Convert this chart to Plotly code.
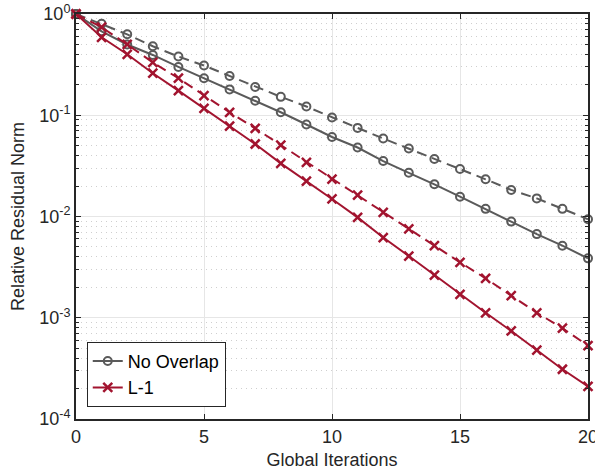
import plotly.graph_objects as go

iterations = list(range(0, 21))

no_overlap_solid = [1.0, 0.675, 0.50, 0.394, 0.30, 0.232, 0.18, 0.139, 0.107, 0.081,
                    0.061, 0.048, 0.0353, 0.027, 0.0208, 0.0157, 0.0119, 0.0089,
                    0.0067, 0.00515, 0.00386]
no_overlap_dashed = [1.0, 0.80, 0.63, 0.48, 0.38, 0.31, 0.244, 0.19, 0.152, 0.122,
                     0.095, 0.075, 0.059, 0.047, 0.037, 0.0294, 0.0233, 0.0183,
                     0.0151, 0.0119, 0.0094]
l1_solid = [1.0, 0.589, 0.40, 0.26, 0.175, 0.117, 0.078, 0.052, 0.0335, 0.0224,
            0.0149, 0.0098, 0.0062, 0.00407, 0.00264, 0.0017, 0.00112, 0.00074,
            0.00048, 0.00031, 0.00021]
l1_dashed = [1.0, 0.74, 0.50, 0.333, 0.232, 0.156, 0.107, 0.0743, 0.0508, 0.0343,
             0.0234, 0.0163, 0.011, 0.00753, 0.00515, 0.00353, 0.00245, 0.00165,
             0.00112, 0.00079, 0.00053]

y_tick_vals = [1e-4, 1e-3, 1e-2, 1e-1, 1e0]
y_tick_text = ["10<sup>-4</sup>", "10<sup>-3</sup>", "10<sup>-2</sup>",
               "10<sup>-1</sup>", "10<sup>0</sup>"]
x_tick_vals = [0, 5, 10, 15, 20]

GRAY = "#5a5a5a"
RED = "#a2142f"
FONT = "Liberation Sans, Arial, sans-serif"
TXT = "#262626"

minor_vals = [m * 10 ** e for e in range(-4, 0) for m in range(2, 10)]

fig = go.Figure()

fig.add_trace(go.Scatter(
    x=iterations, y=no_overlap_dashed, mode="lines+markers", showlegend=False,
    line=dict(color=GRAY, width=2, dash="10px,6px"),
    marker=dict(symbol="circle-open", size=8, color=GRAY, line=dict(width=2, color=GRAY)),
    cliponaxis=False,
))
fig.add_trace(go.Scatter(
    x=iterations, y=no_overlap_solid, mode="lines+markers", name="No Overlap",
    line=dict(color=GRAY, width=2),
    marker=dict(symbol="circle-open", size=8, color=GRAY, line=dict(width=2, color=GRAY)),
    cliponaxis=False,
))
fig.add_trace(go.Scatter(
    x=iterations, y=l1_dashed, mode="lines+markers", showlegend=False,
    line=dict(color=RED, width=2, dash="10px,6px"),
    marker=dict(symbol="x-thin-open", size=9, color=RED, line=dict(width=2.5, color=RED)),
    cliponaxis=False,
))
fig.add_trace(go.Scatter(
    x=iterations, y=l1_solid, mode="lines+markers", name="L-1",
    line=dict(color=RED, width=2),
    marker=dict(symbol="x-thin-open", size=9, color=RED, line=dict(width=2.5, color=RED)),
    cliponaxis=False,
))

fig.update_layout(
    width=595, height=474,
    margin=dict(l=76, r=7, t=14, b=55, autoexpand=False),
    paper_bgcolor="white", plot_bgcolor="white",
    font=dict(family=FONT, size=18, color=TXT),
    legend=dict(
        x=0.021, y=0.03, xanchor="left", yanchor="bottom",
        bgcolor="white", bordercolor="#262626", borderwidth=1,
        font=dict(family=FONT, size=18, color="#000000"),
        tracegroupgap=0, itemwidth=30,
    ),
    xaxis=dict(
        range=[0, 20], tickvals=x_tick_vals, ticks="inside", ticklen=5,
        tickwidth=1, tickcolor=TXT, automargin=False, ticklabeloverflow="allow",
        showline=True, linecolor=TXT, linewidth=2, mirror="allticks",
        showgrid=True, gridcolor="#e6e6e6", gridwidth=1, zeroline=False,
        title=dict(text="Global Iterations", font=dict(size=18, color=TXT), standoff=8),
        tickfont=dict(size=18, color=TXT),
    ),
    yaxis=dict(
        type="log", range=[-4, 0], tickmode="array", tickvals=y_tick_vals,
        ticktext=y_tick_text, ticks="inside", ticklen=5, tickwidth=1, tickcolor=TXT,
        automargin=False, ticklabeloverflow="allow",
        showline=True, linecolor=TXT, linewidth=2, mirror="allticks",
        showgrid=True, gridcolor="#e6e6e6", gridwidth=1, zeroline=False,
        title=dict(text="Relative Residual Norm", font=dict(size=18, color=TXT), standoff=10),
        tickfont=dict(size=18, color=TXT),
        minor=dict(tickmode="array", tickvals=minor_vals, ticks="inside", ticklen=3,
                   tickcolor=TXT, showgrid=True, gridcolor="#cfcfcf", griddash="1px,4px",
                   gridwidth=1),
    ),
)

fig.write_html("out.html", config={"displayModeBar": False},
               post_script="document.body.style.margin='0';")
